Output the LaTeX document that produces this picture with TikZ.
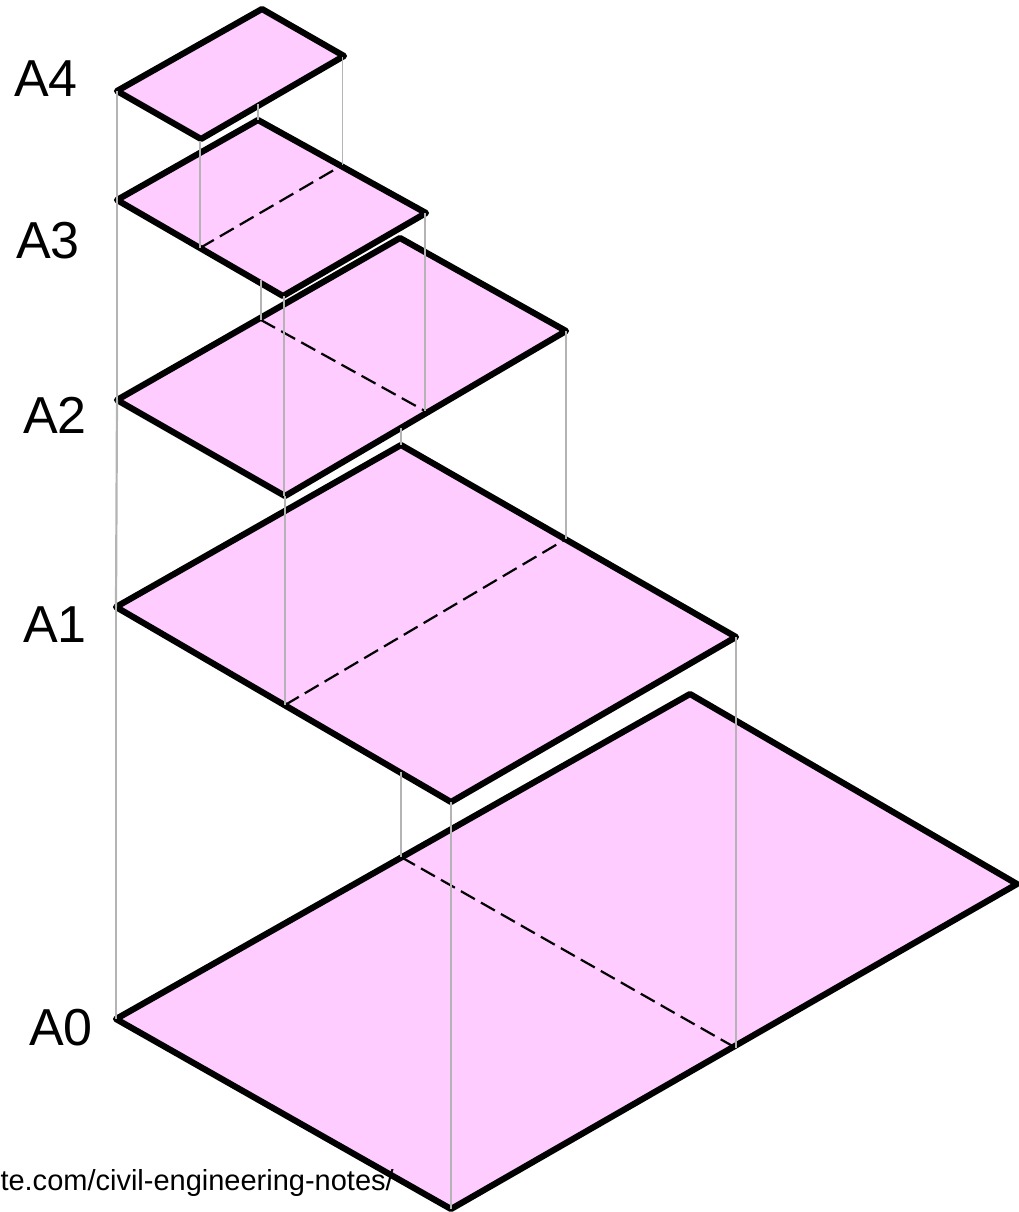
\documentclass[tikz,border=0pt]{standalone}
\usepackage{fontspec}
\setmainfont{Liberation Sans}
\definecolor{sheetfill}{HTML}{FFCCFF}
\definecolor{guide}{HTML}{B4B4B4}
\tikzset{
  sheet/.style={draw=black,fill=sheetfill,line width=6.2pt,line join=round},
  fold/.style={draw=black,line width=2.2pt,dash pattern=on 16pt off 7pt},
  guideline/.style={draw=guide,line width=1.5pt},
  guidethick/.style={draw=guide,line width=2.2pt},
  size/.style={font=\fontsize{52}{52}\selectfont,anchor=base west,inner sep=0pt,text=black},
  url/.style={font=\fontsize{29}{30}\selectfont,anchor=base east,inner sep=0pt,text=black}
}
\begin{document}
\begin{tikzpicture}[x=1pt,y=-1pt]
\useasboundingbox (0,0) rectangle (1019,1212);
% sheet corners
\coordinate (a0l) at (116,1019); \coordinate (a0t) at (690,694); \coordinate (a0r) at (1017,884); \coordinate (a0b) at (451,1209);
\coordinate (a1l) at (116,607); \coordinate (a1t) at (401,445); \coordinate (a1r) at (736,637); \coordinate (a1b) at (451,802);
\coordinate (a2l) at (117,400); \coordinate (a2t) at (400,238); \coordinate (a2r) at (566,331); \coordinate (a2b) at (285,496);
\coordinate (a3l) at (117,200); \coordinate (a3t) at (258,120); \coordinate (a3r) at (426,213); \coordinate (a3b) at (283,296);
\coordinate (a4l) at (117,91); \coordinate (a4t) at (262,9); \coordinate (a4r) at (344,56); \coordinate (a4b) at (201,139);
% fold ends
\coordinate (f0a) at (401,857); \coordinate (f0b) at (736,1048);
\coordinate (f1a) at (285,705); \coordinate (f1b) at (566,539);
\coordinate (f2a) at (261,320); \coordinate (f2b) at (425,411);
\coordinate (f3a) at (200,248); \coordinate (f3b) at (342.5,165);
% ends of the guides that do not start on a corner
\coordinate (g1) at (401,772); \coordinate (g2) at (401,428); \coordinate (g3) at (261,280); \coordinate (g4) at (258,104);
\coordinate (g5) at (342.5,57); \coordinate (g6) at (425,213); \coordinate (g7) at (284,296); \coordinate (g8) at (284,496);
\coordinate (g9) at (200,141);
% sheets
\draw[sheet] (a0l) -- (a0t) -- (a0r) -- (a0b) -- cycle;
\draw[sheet] (a1l) -- (a1t) -- (a1r) -- (a1b) -- cycle;
\draw[sheet] (a2l) -- (a2t) -- (a2r) -- (a2b) -- cycle;
\draw[sheet] (a3l) -- (a3t) -- (a3r) -- (a3b) -- cycle;
\draw[sheet] (a4l) -- (a4t) -- (a4r) -- (a4b) -- cycle;
% folds
\draw[fold] (f0a) -- (f0b);
\draw[fold] (f1a) -- (f1b);
\draw[fold] (f2a) -- (f2b);
\draw[fold] (f3a) -- (f3b);
% guides
\draw[guidethick] (a1l) -- (a0l);
\draw[guidethick] (a1b) -- (a0b);
\draw[guidethick] (a1r) -- (f0b);
\draw[guidethick] (g1) -- (f0a);
\draw[guidethick] (a2l) -- (a1l);
\draw[guidethick] (a2b) -- (f1a);
\draw[guidethick] (a2r) -- (f1b);
\draw[guidethick] (g2) -- (a1t);
\draw[guideline] (a3l) -- (a2l);
\draw[guideline] (g7) -- (g8);
\draw[guideline] (g6) -- (f2b);
\draw[guideline] (g3) -- (f2a);
\draw[guideline] (a4l) -- (a3l);
\draw[guideline] (g9) -- (f3a);
\draw[guideline] (g5) -- (f3b);
\draw[guidethick] (g4) -- (a3t);
% labels
\node[size] (la4) at (14,97) {A4};
\node[size] (la3) at (16,258) {A3};
\node[size] (la2) at (23,433) {A2};
\node[size] (la1) at (23,642) {A1};
\node[size] (la0) at (29,1045) {A0};
\node[url] (link) at (394,1190) {te.com/civil-engineering-notes/};
\end{tikzpicture}
\end{document}
